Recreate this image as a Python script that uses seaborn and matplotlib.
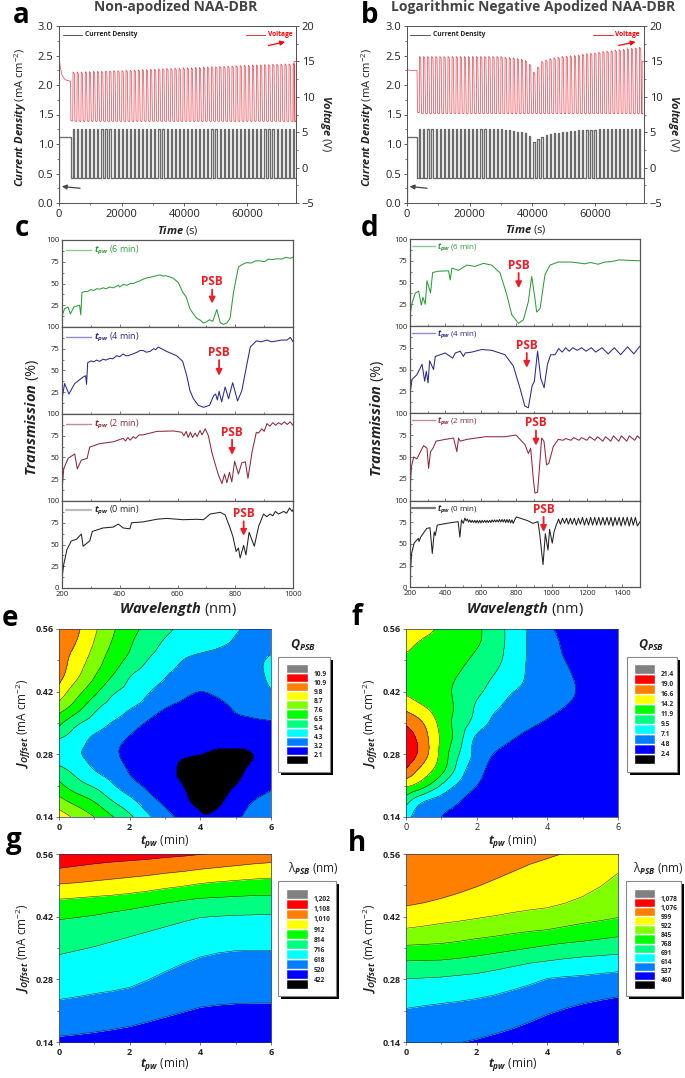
import matplotlib
matplotlib.use('Agg')

import matplotlib.pyplot as plt
import matplotlib.tri as mtri
import numpy as np
import seaborn as sns

from matplotlib.patches import Rectangle

WIDTH, HEIGHT = 685, 1078

sns.set_theme(style='ticks')
plt.rcParams['font.family'] = ['Open Sans', 'DejaVu Sans']
plt.rcParams['mathtext.fontset'] = 'custom'
plt.rcParams['mathtext.rm'] = 'Open Sans'
plt.rcParams['mathtext.it'] = 'Open Sans:italic'
plt.rcParams['mathtext.bf'] = 'Open Sans:bold'
plt.rcParams['mathtext.bfit'] = 'Open Sans:italic:bold'

RED = '#FF0000'
ORANGE = '#FF8000'
YELLOW = '#FFFF00'
CHART = '#80FF00'
GREEN = '#00FF00'
SPRING = '#00FF80'
CYAN = '#00FFFF'
AZURE = '#0080FF'
BLUE = '#0000FF'
GREY = '#808080'

# anodization profiles: peak per pulse
a_voltage_peak = [13.5, 13.5, 13.5, 13.55, 13.55, 13.6, 13.6, 13.6, 13.65, 13.65, 13.7, 13.7, 13.7, 13.75,
                  13.75, 13.8, 13.8, 13.85, 13.85, 13.9, 13.9, 13.95, 13.95, 14.0, 14.0, 14.05, 14.05, 14.1,
                  14.1, 14.1, 14.15, 14.15, 14.2, 14.2, 14.25, 14.25, 14.3, 14.3, 14.35, 14.35, 14.4, 14.4,
                  14.45, 14.45, 14.5, 14.5, 14.5, 14.55, 14.55, 14.6, 14.6, 14.6, 14.65, 14.65, 14.7]
a_current_peak = [1.25] * 55
b_voltage_peak = [15.7, 15.7, 15.7, 15.7, 15.7, 15.7, 15.7, 15.7, 15.7, 15.7, 15.7, 15.7, 15.7, 15.7,
                  15.7, 15.7, 15.7, 15.7, 15.7, 15.7, 15.7, 15.6, 15.55, 15.5, 15.4, 15.3, 15.1, 14.6,
                  13.5, 14.2, 15.0, 15.2, 15.4, 15.5, 15.6, 15.7, 15.75, 15.8, 15.85, 15.9, 16.0, 16.1,
                  16.15, 16.2, 16.3, 16.4, 16.45, 16.5, 16.6, 16.65, 16.7, 16.8, 16.85, 16.9, 17.0]
b_current_peak = [1.25, 1.25, 1.25, 1.25, 1.25, 1.25, 1.25, 1.25, 1.25, 1.25, 1.25, 1.25, 1.25, 1.25,
                  1.25, 1.25, 1.25, 1.25, 1.25, 1.25, 1.25, 1.24, 1.23, 1.22, 1.21, 1.2, 1.18, 1.13,
                  1.03, 1.08, 1.12, 1.15, 1.17, 1.18, 1.19, 1.2, 1.21, 1.22, 1.22, 1.23, 1.23, 1.24,
                  1.24, 1.24, 1.25, 1.25, 1.25, 1.25, 1.25, 1.25, 1.25, 1.25, 1.25, 1.25, 1.25]

# transmission spectra, panel c
c6_wave = [200, 209, 221, 229, 241, 261, 265, 269, 280, 287, 300, 310, 320, 331, 342, 352, 366, 378, 395, 400,
           412, 425, 437, 447, 460, 470, 481, 495, 505, 515, 528, 539, 550, 560, 574, 585, 603, 618, 630, 643,
           655, 667, 678, 690, 701, 711, 722, 736, 748, 759, 771, 782, 794, 811, 825, 840, 855, 870, 887, 900,
           915, 930, 945, 960, 975, 990, 1000]
c6_trans = [13, 21, 23, 15, 23, 25, 14, 39.5, 41, 40.5, 43, 42, 44, 43.5, 45, 44, 46, 45, 48, 46,
            49, 48, 50, 50, 52, 53, 55, 56.5, 57, 58, 59, 60, 58.5, 59, 57.5, 56, 51, 40, 34.5, 21,
            15, 10, 8, 4.6, 6, 8.4, 6.5, 20, 5, 3, 4.6, 10, 40, 69, 72, 74, 73.5, 76, 76, 75,
            78, 77.5, 78.5, 78, 80, 79, 80]
c4_wave = [200, 209, 224, 244, 273, 282, 285, 289, 300, 310, 320, 331, 342, 352, 366, 376, 389, 400, 412, 420,
           429, 445, 460, 470, 481, 492, 505, 517, 525, 533, 545, 562, 597, 618, 632, 643, 655, 672, 690, 711,
           725, 732, 738, 744, 753, 765, 777, 791, 808, 823, 835, 852, 873, 890, 910, 925, 945, 960, 979, 991,
           1000]
c4_trans = [17.6, 35, 23, 35, 42.5, 44, 34, 59, 61, 60, 62, 60.5, 63, 62, 64, 63.5, 67, 66, 69, 67,
            67, 69, 71, 73, 73, 71, 72, 75, 74, 77, 75, 72, 67, 60.5, 44, 27, 17.6, 10, 7.7, 10,
            21, 23, 16, 26, 14, 31, 17.6, 36, 15, 27, 48, 77, 84, 83, 85, 83, 84, 85, 85, 88,
            83]
c2_wave = [200, 206, 221, 244, 253, 267, 287, 296, 331, 377, 412, 420, 428, 436, 447, 455, 467, 481, 528, 586,
           615, 622, 630, 637, 645, 652, 661, 668, 678, 685, 696, 707, 719, 730, 742, 754, 763, 771, 780, 788,
           798, 811, 823, 835, 844, 858, 873, 880, 892, 900, 910, 920, 930, 940, 950, 960, 970, 980, 990, 1000]
c2_trans = [12, 37, 49, 54, 37, 47, 49, 62, 66, 68, 72, 69, 73, 70, 74, 72, 76, 76, 80, 80.5,
            79, 75, 80, 73, 79, 73, 78, 74, 81, 76, 83, 75, 56, 43, 29.5, 20, 31, 21, 33, 22,
            45.6, 31, 44, 45, 26, 56, 79, 78, 83, 80, 89, 86, 90, 87, 90, 88, 91, 88, 91, 87]
c0_wave = [200, 206, 217, 232, 250, 267, 273, 296, 305, 342, 377, 395, 412, 435, 441, 481, 528, 562, 620, 667,
           690, 713, 748, 765, 782, 792, 803, 811, 817, 829, 837, 848, 866, 881, 898, 909, 921, 930, 939, 950,
           968, 978, 988, 997, 1000]
c0_trans = [11.5, 27, 44, 54, 56, 62, 48, 54, 65, 69, 70, 73.5, 69, 68, 75, 76, 79, 80, 78.5, 79,
            78.5, 85, 87, 84, 69, 59, 42, 46, 34.5, 49, 38, 64, 48, 71, 85, 82, 85, 83, 88, 85,
            88, 86, 92, 88, 90]

# transmission spectra, panel d
d6_wave = [200, 211, 230, 249, 264, 273, 286, 296, 316, 328, 362, 418, 427, 437, 474, 521, 568, 615, 662, 709,
           747, 775, 813, 841, 869, 888, 906, 916, 935, 963, 991, 1038, 1113, 1188, 1220, 1263, 1300, 1339,
           1380, 1433, 1500]
d6_trans = [12, 26, 38, 40, 24, 33, 25, 52, 38, 61.5, 63, 63.5, 53, 66.5, 64, 70, 68.5, 72, 70, 61,
            36, 13, 3, 7, 28, 57, 32, 16, 20, 59, 70, 73.5, 73.5, 71.5, 73, 71, 73.5, 74,
            76, 75.5, 75]
d4_wave = [200, 211, 239, 268, 283, 292, 302, 311, 333, 343, 399, 441, 456, 484, 502, 512, 549, 606, 662, 737,
           784, 821, 849, 869, 890, 903, 921, 939, 958, 977, 995, 1020, 1040, 1060, 1080, 1100, 1120, 1145,
           1170, 1195, 1225, 1250, 1285, 1320, 1355, 1390, 1430, 1465, 1500]
d4_trans = [21, 38.5, 44, 56, 36.5, 48, 34.6, 60, 50, 65, 69, 63, 69, 71, 65, 69, 70, 73, 72, 67,
            54, 29, 8, 6, 31, 36.5, 71, 40, 29, 56, 67, 67, 74, 70, 75, 71, 75, 72,
            75, 71, 75, 70, 75, 68, 75, 67, 76, 68, 77]
d2_wave = [200, 208, 221, 239, 277, 296, 305, 316, 330, 347, 399, 446, 465, 474, 484, 521, 625, 737, 799, 850,
           869, 882, 897, 906, 921, 933, 944, 957, 972, 985, 1010, 1038, 1065, 1080, 1110, 1125, 1155, 1170,
           1200, 1215, 1245, 1260, 1290, 1305, 1335, 1350, 1380, 1395, 1425, 1440, 1470, 1485, 1500]
d2_trans = [10, 39, 50, 48, 63, 60, 37, 56, 60, 68, 70, 71.5, 56, 71.5, 68, 70, 73, 73, 75, 64,
            54, 60, 25, 9, 10, 41, 71.5, 68, 41, 43, 62, 70, 69, 71, 69, 72, 69, 72,
            69, 73, 69, 73, 68, 73, 68, 74, 68, 74, 68, 74, 69, 74, 71]
d0_wave = [200, 209, 223, 247, 251, 260, 294, 313, 326, 337, 343, 354, 407, 472, 482, 491, 501, 510, 517, 524,
           531, 538, 545, 552, 559, 566, 573, 580, 587, 594, 601, 608, 615, 622, 629, 636, 643, 650, 657, 664,
           671, 678, 685, 692, 699, 706, 713, 720, 727, 734, 741, 748, 755, 762, 769, 776, 783, 792, 801, 867,
           895, 923, 933, 952, 965, 980, 989, 1004, 1014, 1027, 1040, 1050, 1062, 1073, 1085, 1095, 1107, 1117,
           1129, 1140, 1152, 1163, 1175, 1186, 1198, 1209, 1221, 1232, 1244, 1255, 1267, 1278, 1290, 1301, 1313,
           1324, 1336, 1347, 1359, 1370, 1382, 1393, 1405, 1416, 1428, 1439, 1451, 1462, 1474, 1485, 1500]
d0_trans = [10, 39, 51, 56.5, 53, 58, 68, 69, 39, 64, 60, 72, 74, 76, 58, 78, 74, 80, 77, 79,
            75.5, 78, 75, 77.5, 75, 77.5, 74.5, 77.5, 74.5, 77.5, 74.5, 77.5, 75, 77.5, 75, 77.5, 75, 77.5, 75, 78,
            75.5, 78, 75.5, 78, 75.5, 78.5, 75.5, 78.5, 75.5, 78.5, 75, 78.5, 75, 78.5, 74.5, 78, 74, 78, 81.5, 77,
            74, 76, 62, 26, 62, 43, 67, 51, 64, 72, 79, 73, 80, 74, 80, 73, 80, 73,
            80, 72, 80, 73, 81, 72, 80, 72, 81, 72, 81, 72, 81, 72, 81, 72, 81,
            72, 81, 71, 81, 72, 81, 71, 81, 72, 81, 71, 81, 72, 81, 71, 76]

# contour fields, rows run from J = 0.56 down to 0.14, columns from t = 0 to 6
t_grid = [0, 0.5, 1, 1.5, 2, 2.5, 3, 3.5, 4, 4.5, 5, 5.5, 6]
j_grid = [0.56, 0.525, 0.49, 0.455, 0.42, 0.385, 0.35, 0.315, 0.28, 0.245, 0.21, 0.175, 0.14]
e_field = [
    [12.0, 11.1, 10.0, 8.9, 8.0, 7.3, 6.7, 6.3, 6.0, 5.75, 5.5, 5.2, 4.9],
    [11.6, 10.8, 9.7, 8.6, 7.7, 6.95, 6.35, 6.05, 5.8, 5.55, 5.2, 4.9, 4.8],
    [11.4, 10.4, 9.3, 8.2, 7.3, 6.5, 5.95, 5.4, 5.05, 4.85, 4.75, 4.95, 5.75],
    [11.2, 10.0, 8.75, 7.6, 6.55, 6.0, 5.45, 5.05, 4.7, 4.55, 4.55, 4.85, 5.8],
    [10.5, 9.1, 7.9, 6.7, 6.15, 5.5, 5.05, 4.6, 4.3, 4.45, 4.55, 4.8, 5.3],
    [9.25, 8.1, 6.8, 6.05, 5.5, 4.95, 4.35, 4.05, 3.95, 4.05, 4.4, 4.6, 4.75],
    [7.9, 6.7, 6.0, 5.35, 4.8, 4.2, 3.85, 3.75, 3.7, 3.8, 4.0, 4.15, 4.25],
    [6.5, 5.9, 5.2, 4.7, 4.2, 3.8, 3.6, 3.6, 3.45, 3.35, 3.4, 3.65, 3.95],
    [5.85, 5.5, 5.05, 4.5, 4.05, 3.7, 3.5, 3.32, 3.2, 3.13, 3.13, 3.2, 3.65],
    [6.85, 6.1, 5.4, 4.85, 4.2, 3.75, 3.6, 3.0, 2.9, 2.85, 3.0, 3.4, 3.9],
    [7.9, 7.0, 6.35, 5.55, 4.75, 4.1, 3.6, 3.2, 2.85, 2.9, 3.2, 3.75, 4.15],
    [9.15, 8.3, 7.55, 6.55, 5.75, 4.8, 4.05, 3.4, 3.0, 3.05, 3.65, 4.3, 4.75],
    [10.4, 9.55, 8.7, 7.7, 6.7, 5.65, 4.7, 3.95, 3.28, 3.45, 4.05, 4.75, 5.3],
]
f_field = [
    [17.9, 17.2, 16.2, 15.4, 14.6, 13.0, 11.1, 9.1, 7.5, 6.6, 6.2, 5.9, 5.7],
    [17.1, 16.2, 15.7, 15.2, 14.4, 12.9, 11.1, 9.2, 7.9, 6.8, 6.2, 5.9, 5.7],
    [16.2, 15.6, 15.0, 14.7, 13.6, 12.5, 10.9, 9.2, 8.1, 7.1, 6.3, 5.9, 5.7],
    [15.9, 15.4, 14.9, 14.1, 13.0, 11.8, 10.5, 9.15, 8.3, 7.6, 6.4, 5.9, 5.6],
    [16.3, 15.5, 14.8, 13.7, 12.4, 10.9, 9.6, 8.9, 8.3, 7.8, 6.6, 5.9, 5.5],
    [18.3, 16.8, 15.3, 13.6, 11.6, 9.9, 8.8, 8.2, 7.6, 7.05, 6.2, 5.7, 5.3],
    [21.0, 18.9, 15.8, 13.2, 10.9, 8.9, 8.0, 7.4, 6.9, 6.3, 5.7, 5.3, 5.0],
    [22.8, 20.0, 16.2, 12.8, 9.0, 8.0, 7.2, 6.5, 6.0, 5.6, 5.3, 5.2, 5.1],
    [23.2, 20.0, 15.9, 11.9, 8.7, 7.0, 6.2, 5.7, 5.4, 5.3, 5.3, 5.2, 5.1],
    [21.1, 18.0, 15.0, 10.8, 8.0, 6.4, 5.9, 5.5, 5.3, 5.2, 5.2, 5.1, 5.1],
    [17.0, 14.9, 11.6, 9.0, 7.1, 5.9, 5.5, 5.3, 5.2, 5.2, 5.1, 5.1, 5.1],
    [12.8, 9.6, 8.5, 7.2, 5.9, 5.4, 5.3, 5.2, 5.2, 5.1, 5.1, 5.1, 5.0],
    [10.0, 8.3, 7.1, 6.0, 5.5, 5.3, 5.2, 5.2, 5.1, 5.1, 5.1, 5.0, 5.0],
]
e_levels = [-5, 3.2, 4.3, 5.4, 6.5, 7.6, 8.7, 9.8, 10.9, 16]
f_levels = [-5, 4.8, 7.1, 9.5, 11.9, 14.2, 16.6, 19.0, 21.4, 30]
e_colors = ['black', BLUE, AZURE, CYAN, SPRING, GREEN, CHART, YELLOW, ORANGE]
f_colors = ['black', BLUE, AZURE, CYAN, SPRING, GREEN, YELLOW, ORANGE, RED]

# level curves J(t), lowest first, at t = 0, 0.5, ... 6
t_lines = [0, 0.5, 1, 1.5, 2, 2.5, 3, 3.5, 4, 4.5, 5, 5.5, 6]
g_lines = [
    [.153, .157, .162, .168, .175, .185, .196, .207, .218, .223, .226, .227, .227],
    [.235, .241, .248, .254, .262, .278, .297, .315, .330, .339, .344, .345, .345],
    [.335, .344, .353, .364, .375, .386, .397, .408, .418, .421, .423, .424, .425],
    [.413, .418, .423, .430, .436, .443, .450, .456, .461, .463, .465, .467, .468],
    [.459, .462, .465, .468, .472, .477, .483, .488, .494, .498, .501, .504, .506],
    [.493, .496, .500, .504, .508, .512, .517, .521, .526, .530, .534, .538, .541],
    [.528, .533, .538, .542, .545, .548, .552, .555, .559, .563, .567, .570, .573],
]
g_colors = [BLUE, AZURE, CYAN, SPRING, GREEN, YELLOW, ORANGE, RED]
h_lines = [
    [.114, .121, .129, .138, .147, .158, .170, .185, .202, .215, .226, .234, .241],
    [.215, .221, .226, .231, .237, .245, .256, .268, .282, .286, .289, .293, .297],
    [.281, .283, .285, .289, .293, .300, .308, .316, .321, .326, .330, .333, .336],
    [.321, .322, .323, .327, .332, .338, .344, .350, .356, .361, .365, .370, .375],
    [.356, .358, .360, .365, .371, .376, .382, .387, .391, .398, .405, .411, .418],
    [.394, .399, .405, .410, .416, .422, .429, .435, .440, .450, .465, .487, .517],
    [.444, .451, .461, .473, .487, .503, .520, .537, .550, .563, .576, .588, .599],
]
h_colors = [BLUE, AZURE, CYAN, SPRING, GREEN, CHART, YELLOW, ORANGE]

e_labels = ['2.1', '3.2', '4.3', '5.4', '6.5', '7.6', '8.7', '9.8', '10.9', '10.9']
f_labels = ['2.4', '4.8', '7.1', '9.5', '11.9', '14.2', '16.6', '19.0', '21.4']
g_labels = ['422', '520', '618', '716', '814', '912', '1,010', '1,108', '1,202']
h_labels = ['460', '537', '614', '691', '768', '845', '922', '999', '1,076', '1,078']
e_swatches = ['black', BLUE, AZURE, CYAN, SPRING, GREEN, CHART, YELLOW, ORANGE, RED, GREY]
f_swatches = ['black', BLUE, AZURE, CYAN, SPRING, GREEN, YELLOW, ORANGE, RED, GREY]
h_swatches = e_swatches

fig = plt.figure(figsize=(WIDTH / 100, HEIGHT / 100), dpi=100)


def place(left, top, right, bottom):
    return fig.add_axes([left / WIDTH, 1 - bottom / HEIGHT,
                         (right - left) / WIDTH, (bottom - top) / HEIGHT])


def put_text(x, y, s, **kwargs):
    kwargs.setdefault('ha', 'center')
    kwargs.setdefault('va', 'center')
    fig.text(x / WIDTH, 1 - y / HEIGHT, s, **kwargs)


def draw_line(ax, x, y, color, lw=0.6):
    sns.lineplot(x=x, y=y, ax=ax, color=color, lw=lw, estimator=None, sort=False, legend=False)
    ax.set_xlabel('')
    ax.set_ylabel('')


def current_trace(start, period, on_time, plateau, low, peaks):
    t = [0, 0, start, start]
    y = [0, plateau, plateau, low]
    for i, peak in enumerate(peaks):
        t0 = start + 700 + i * period
        t += [t0, t0, t0 + on_time, t0 + on_time]
        y += [low, peak, peak, low]
    t.append(76000)
    y.append(low)
    return t, y


def voltage_trace(start, period, on_time, head_t, head_v, low, peaks):
    t = list(head_t)
    y = list(head_v)
    for i, peak in enumerate(peaks):
        t0 = start + 700 + i * period
        t += [t0, t0 + 80, t0 + on_time, t0 + on_time + 220, t0 + period - 100]
        y += [low + 0.15, peak, peak - 0.2, low + 0.1, low]
    t += [75000, 75000, 76000]
    y += [low, 15, 15]
    return t, y


def draw_profile(left, right, current, voltage, keys, arrows):
    ax = place(left, 26, right, 203)
    ax2 = ax.twinx()
    draw_line(ax, current[0], current[1], '#6A6A6A', 0.95)
    draw_line(ax2, voltage[0], voltage[1], '#E6404A', 0.5)
    ax.set_xlim(0, 75600)
    ax.set_ylim(0, 3)
    ax2.set_ylim(-5, 20)
    ax.set_xticks([0, 20000, 40000, 60000])
    ax.set_xticks([10000, 30000, 50000, 70000], minor=True)
    ax.set_yticks([0, 0.5, 1, 1.5, 2, 2.5, 3], ['0.0', '0.5', '1.0', '1.5', '2.0', '2.5', '3.0'])
    ax.set_yticks(np.arange(0.25, 3, 0.5), minor=True)
    ax2.set_yticks([-5, 0, 5, 10, 15, 20])
    ax2.set_yticks(np.arange(-2.5, 20, 5), minor=True)
    for axis in (ax, ax2):
        axis.tick_params(which='major', labelsize=8, length=2.5, width=0.6, pad=1.5, color='#444444',
                         labelcolor='#222222')
        axis.tick_params(which='minor', length=1.5, width=0.5, color='#444444')
        for spine in axis.spines.values():
            spine.set_visible(True)
            spine.set_linewidth(0.7)
            spine.set_color('#555555')

    draw_line(ax, keys[0], [2.85, 2.85], '#555555', 0.7)
    ax.text(keys[1], 2.85, 'Current Density', fontsize=4.8, fontweight='bold', va='center', color='#222222')
    draw_line(ax, keys[2], [2.85, 2.85], '#E6303C', 0.7)
    ax.text(keys[3], 2.85, 'Voltage', fontsize=4.8, fontweight='bold', va='center', color=RED)
    ax.annotate('', xy=(arrows[0][0], 0.28), xytext=(arrows[0][1], 0.25),
                arrowprops=dict(arrowstyle='-|>', color='#444444', lw=0.9, mutation_scale=7,
                                shrinkA=0, shrinkB=0))
    ax.annotate('', xy=(arrows[1][1], 2.73), xytext=(arrows[1][0], 2.67),
                arrowprops=dict(arrowstyle='-|>', color=RED, lw=0.9, mutation_scale=7,
                                shrinkA=0, shrinkB=0))


def draw_spectra(left, right, tops, xmax, xticks, xminor, curves):
    for i, (wave, trans, color, key_color, label, psb, key_x, key_y) in enumerate(curves):
        ax = place(left, tops[i], right, tops[i + 1])
        draw_line(ax, wave, trans, color, 0.75)
        ax.set_xlim(200, xmax)
        ax.set_ylim(0, 100)
        ax.set_xticks(xticks)
        ax.set_xticks(xminor, minor=True)
        ax.set_yticks([0, 25, 50, 75, 100] if i == 3 else [25, 50, 75, 100])
        ax.set_yticks([12.5, 37.5, 62.5, 87.5], minor=True)
        ax.tick_params(which='major', direction='in', labelsize=5.5, length=2.5, width=0.5, pad=2,
                       color='#444444', labelcolor='#222222', labelbottom=i == 3)
        ax.tick_params(which='minor', direction='in', length=1.5, width=0.5, color='#444444')
        for spine in ax.spines.values():
            spine.set_visible(True)
            spine.set_linewidth(0.9)
            spine.set_color('#555555')
        draw_line(ax, key_x[:2], [key_y, key_y], key_color, 1.0 if i < 3 else 1.6)
        ax.text(key_x[2], key_y - 1, r'$\mathbfit{t}_{\mathbfit{pw}}$ (' + label + ')', color=color,
                fontsize=key_x[3], va='center')
        ax.text(psb[0], psb[1], 'PSB', color='#EE1C25', fontsize=8.5, fontweight='bold',
                ha='center', va='center')
        ax.annotate('', xy=(psb[0], psb[3]), xytext=(psb[0], psb[2]),
                    arrowprops=dict(arrowstyle='-|>', color='#EE1C25', lw=1.3, mutation_scale=9,
                                    shrinkA=0, shrinkB=0))


def style_map(ax, x_bold=True):
    ax.set_xlim(0, 6)
    ax.set_ylim(0.14, 0.56)
    ax.set_xticks([0, 2, 4, 6])
    ax.set_xticks([1, 3, 5], minor=True)
    ax.set_yticks([0.14, 0.28, 0.42, 0.56], ['0.14', '0.28', '0.42', '0.56'])
    ax.set_yticks([0.21, 0.35, 0.49], minor=True)
    ax.tick_params(which='major', labelsize=6.5, length=2, width=0.5, pad=2, color='#444444')
    ax.tick_params(which='minor', length=1.2, width=0.5, color='#444444')
    for label in ax.get_yticklabels():
        label.set_fontweight('bold')
    for label in ax.get_xticklabels():
        label.set_fontweight('bold' if x_bold else 'normal')
    for spine in ax.spines.values():
        spine.set_visible(True)
        spine.set_linewidth(0.5)
        spine.set_color('#223366')


def draw_field(left, top, right, bottom, field, levels, colors, x_bold=True):
    ax = place(left, top, right, bottom)
    t_mesh, j_mesh = np.meshgrid(t_grid, j_grid)
    triang = mtri.Triangulation(t_mesh.ravel(), j_mesh.ravel())
    refiner = mtri.UniformTriRefiner(triang)
    fine_tri, fine_field = refiner.refine_field(np.array(field).ravel(), subdiv=3)
    ax.tricontourf(fine_tri, fine_field, levels=levels, colors=colors)
    ax.tricontour(fine_tri, fine_field, levels=levels[1:-1], colors='black', linewidths=0.35)
    style_map(ax, x_bold)


def draw_bands(left, top, right, bottom, lines, colors):
    ax = place(left, top, right, bottom)
    edges = [[0.1] * len(t_lines)] + lines + [[0.62] * len(t_lines)]
    for i, color in enumerate(colors):
        ax.fill_between(t_lines, edges[i], edges[i + 1], color=color, lw=0)
    for line in lines:
        draw_line(ax, t_lines, line, '#222222', 0.35)
    style_map(ax)


def draw_key(box, swatch_x, swatch_y, swatches, labels):
    left, top, right, bottom = box
    fig.add_artist(Rectangle((left / WIDTH + 3 / WIDTH, 1 - (bottom + 3) / HEIGHT),
                             (right - left) / WIDTH, (bottom - top) / HEIGHT,
                             transform=fig.transFigure, facecolor='black', edgecolor='none', zorder=-2))
    fig.add_artist(Rectangle((left / WIDTH, 1 - bottom / HEIGHT),
                             (right - left) / WIDTH, (bottom - top) / HEIGHT,
                             transform=fig.transFigure, facecolor='white', edgecolor='#888888',
                             lw=0.8, zorder=-1))
    ax = place(swatch_x[0], swatch_y[0], swatch_x[1], swatch_y[1])
    ax.barh(range(len(swatches)), [1] * len(swatches), height=1.0, left=0, color=swatches, align='edge')
    ax.set_xlim(0, 1)
    ax.set_ylim(0, len(swatches))
    ax.set_xticks([])
    ax.yaxis.tick_right()
    ax.set_yticks(range(1, len(labels) + 1), labels)
    ax.tick_params(length=0, pad=4, labelsize=4.8)
    for label in ax.get_yticklabels():
        label.set_fontweight('bold')
    sns.despine(ax=ax, left=True, bottom=True, right=True, top=True)
    ax.patch.set_alpha(0)


a_current = current_trace(3700, 1300, 380, 1.12, 0.42, a_current_peak)
a_voltage = voltage_trace(3700, 1300, 480, [0, 30, 100, 400, 1000, 2000, 3700, 3800],
                          [1, 20, 15.5, 14.2, 13, 12.4, 12.2, 6.6], 6.5, a_voltage_peak)
b_current = current_trace(3200, 1300, 380, 1.12, 0.42, b_current_peak)
b_voltage = voltage_trace(3200, 1300, 480, [0, 50, 300, 1200, 3200, 3350],
                          [0.5, 14.2, 13.8, 13.7, 13.7, 7.8], 7.6, b_voltage_peak)

draw_profile(59, 296, a_current, a_voltage, [[1400, 7200], 8300, [59600, 65700], 66600],
             [[900, 6700], [66800, 72100]])
draw_profile(407, 644, b_current, b_voltage, [[1060, 7450], 8200, [59400, 65700], 66300],
             [[850, 6400], [67500, 72900]])

c_key_x = [215, 302, 311, 6.5]
d_key_x = [211, 343, 355, 5.8]
draw_spectra(62, 293, [240, 327, 414, 501, 588], 1000, [200, 400, 600, 800, 1000], [300, 500, 700, 900], [
    (c6_wave, c6_trans, '#2E9B3C', '#8CCB92', '6 min', (720, 52, 43, 27), c_key_x, 89),
    (c4_wave, c4_trans, '#2A2A8C', '#8E8EC8', '4 min', (744, 70.5, 62, 44), c_key_x, 89),
    (c2_wave, c2_trans, '#8B2A3A', '#C08E96', '2 min', (789, 79, 70.5, 53), c_key_x, 89),
    (c0_wave, c0_trans, '#222222', '#BBBBBB', '0 min', (829, 86, 76.6, 60), c_key_x, 90),
])
draw_spectra(410, 640, [239, 326, 413, 501, 587], 1500, [200, 400, 600, 800, 1000, 1200, 1400],
             [300, 500, 700, 900, 1100, 1300, 1500], [
    (d6_wave, d6_trans, '#2E9B3C', '#8CCB92', '6 min', (814, 69.6, 61, 43.5), d_key_x, 92),
    (d4_wave, d4_trans, '#2A2A8C', '#8E8EC8', '4 min', (860, 78, 69, 52), d_key_x, 92),
    (d2_wave, d2_trans, '#8B2A3A', '#C08E96', '2 min', (912, 89, 80, 63), d_key_x, 92),
    (d0_wave, d0_trans, '#222222', '#777777', '0 min', (955, 90, 81.5, 64), d_key_x, 92),
])

draw_field(59, 629, 271, 817, e_field, e_levels, e_colors)
draw_field(406, 629, 618, 817, f_field, f_levels, f_colors, x_bold=False)
draw_bands(59, 854, 271, 1042, g_lines, g_colors)
draw_bands(406, 854, 618, 1042, h_lines, h_colors)

draw_key((278, 657, 330, 772), (286, 308), (664, 764), e_swatches, e_labels)
draw_key((627, 657, 677, 772), (634, 655), (664, 764), f_swatches, f_labels)
draw_key((278, 881, 336, 996), (286, 308), (889, 989), f_swatches, g_labels)
draw_key((626, 881, 681, 996), (634, 655), (889, 989), h_swatches, h_labels)

# titles and axis labels
put_text(176, 7, 'Non-apodized NAA-DBR', fontsize=10, fontweight='bold', color='#444444')
put_text(533, 7, 'Logarithmic Negative Apodized NAA-DBR', fontsize=10, fontweight='bold', color='#444444')

for letter, x, y in [('a', 13, 23), ('b', 361, 23), ('c', 15, 236), ('d', 361, 236),
                     ('e', 2, 626), ('f', 352, 625), ('g', 6, 848), ('h', 348, 851)]:
    put_text(x, y, letter, fontsize=20, fontweight='bold', ha='left', va='baseline', color='black')

current_label = r'$\mathbfit{Current\ Density}$ (mA cm$^{-2}$)'
put_text(21, 117, current_label, fontsize=8, rotation=90, color='#222222')
put_text(368, 117, current_label, fontsize=8, rotation=90, color='#222222')
put_text(325, 124, r'$\mathbfit{Voltage}$ (V)', fontsize=8, rotation=270, color='#222222')
put_text(673, 124, r'$\mathbfit{Voltage}$ (V)', fontsize=8, rotation=270, color='#222222')
put_text(178, 230, r'$\mathbfit{Time}$ (s)', fontsize=8, color='#222222')
put_text(526, 229, r'$\mathbfit{Time}$ (s)', fontsize=8, color='#222222')

put_text(32, 417, r'$\mathbfit{Transmission}$ (%)', fontsize=10.5, rotation=90, color='#222222')
put_text(377, 418, r'$\mathbfit{Transmission}$ (%)', fontsize=10.5, rotation=90, color='#222222')
put_text(178, 609, r'$\mathbfit{Wavelength}$ (nm)', fontsize=10.5, color='#222222')
put_text(525, 609, r'$\mathbfit{Wavelength}$ (nm)', fontsize=10.5, color='#222222')

offset_label = r'$\mathbfit{J}_{\mathbfit{Offset}}$ (mA cm$^{-2}$)'
pw_label = r'$\mathbfit{t}_{\mathbfit{pw}}$ (min)'
for x, y in [(23, 723), (370, 723), (23, 948), (370, 948)]:
    put_text(x, y, offset_label, fontsize=8.5, rotation=90, color='#222222')
for x, y in [(165, 842), (513, 842), (165, 1065), (513, 1065)]:
    put_text(x, y, pw_label, fontsize=8.5, color='#222222')

put_text(303, 645, r'$\mathbfit{Q}_{\mathbfit{PSB}}$', fontsize=9, color='#222222')
put_text(651, 645, r'$\mathbfit{Q}_{\mathbfit{PSB}}$', fontsize=9, color='#222222')
put_text(313, 869, r'λ$_{\mathbfit{PSB}}$ (nm)', fontsize=8.5, color='#222222')
put_text(658, 869, r'λ$_{\mathbfit{PSB}}$ (nm)', fontsize=8.5, color='#222222')

fig.savefig('out.png', dpi=100)
